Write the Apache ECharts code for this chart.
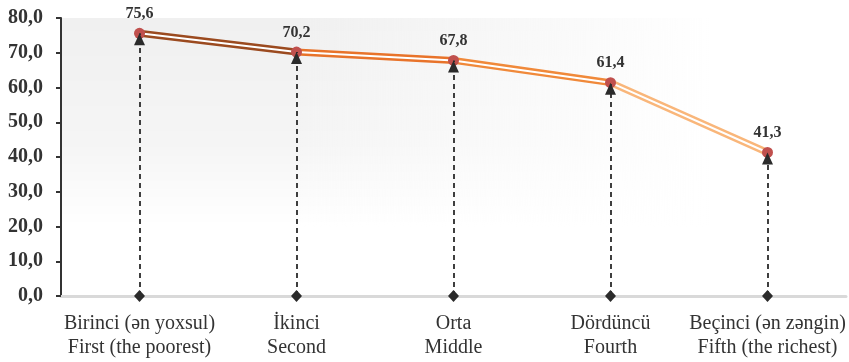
<!DOCTYPE html>
<html><head><meta charset="utf-8">
<script src="https://cdn.jsdelivr.net/npm/echarts@6/dist/echarts.min.js"></script>
<style>html,body{margin:0;padding:0;background:#fff}#c{width:849px;height:362px}</style>
</head><body><div id="c"></div>
<script>
var categories = ['Birinci (ən yoxsul)\nFirst (the poorest)', 'İkinci\nSecond', 'Orta\nMiddle', 'Dördüncü\nFourth', 'Beçinci (ən zəngin)\nFifth (the richest)'];
var values = [75.6, 70.2, 67.8, 61.4, 41.3];
var yTicks = [0, 10, 20, 30, 40, 50, 60, 70, 80];
var segColors = ['#9b4a1f', '#e8732a', '#f0893a', '#f9b67a'];

var fmt = function (v) { return Number(v).toFixed(1).replace('.', ','); };
var FONT = '"Liberation Serif", "Times New Roman", serif';

var series = [];
for (var i = 0; i < values.length - 1; i++) {
  var d = values.map(function (v, j) { return (j === i || j === i + 1) ? v : null; });
  series.push({
    type: 'line', data: d, symbol: 'none', silent: true, z: 2,
    lineStyle: { color: segColors[i], width: 7 }, animation: false
  });
}
series.push({
  type: 'line', data: values, symbol: 'none', silent: true, z: 3,
  lineStyle: { color: '#ffffff', width: 2 }, animation: false
});
series.push({
  type: 'line', data: values, symbol: 'circle', symbolSize: 11, z: 4,
  lineStyle: { width: 0, opacity: 0 },
  itemStyle: { color: '#c0504d' },
  label: { show: true, position: 'top', distance: 6, formatter: function (p) { return fmt(p.value); },
    fontFamily: FONT, fontWeight: 'bold', fontSize: 16, color: '#333' },
  animation: false
});
series.push({
  type: 'line', data: [], z: 5, animation: false,
  markLine: {
    silent: true, animation: false,
    symbol: ['diamond', 'triangle'], symbolSize: [11, 12],
    symbolOffset: [0, [0, 6]],
    lineStyle: { type: [5, 4], color: '#2b2b2b', width: 1.8 },
    itemStyle: { color: '#2b2b2b' },
    label: { show: false },
    data: values.map(function (v, i) { return [{ coord: [i, 0] }, { coord: [i, v] }]; })
  }
});

var chart = echarts.init(document.getElementById('c'), null, { renderer: 'canvas' });
chart.setOption({
  animation: false,
  grid: {
    left: 61, right: 3, top: 18, bottom: 66, show: true, borderWidth: 0,
    backgroundColor: {
      type: 'linear', x: 0, y: 0, x2: 0, y2: 1,
      colorStops: [{ offset: 0, color: 'rgba(0,0,0,0.06)' }, { offset: 0.45, color: 'rgba(0,0,0,0.038)' }, { offset: 0.75, color: 'rgba(0,0,0,0)' }]
    }
  },
  xAxis: {
    type: 'category', data: categories, boundaryGap: true,
    axisLine: { lineStyle: { color: '#d9d9d9', width: 3 } },
    axisTick: { show: false },
    axisLabel: { fontFamily: FONT, fontSize: 20, color: '#333', lineHeight: 24, margin: 16, interval: 0 }
  },
  yAxis: {
    type: 'value', min: yTicks[0], max: yTicks[yTicks.length - 1], interval: 10,
    splitLine: { show: false },
    axisLine: { show: true, lineStyle: { color: '#333', width: 2 } },
    axisTick: { show: true, length: 5, lineStyle: { color: '#333', width: 2 } },
    axisLabel: { fontFamily: FONT, fontWeight: 'bold', fontSize: 20, color: '#333', margin: 18, formatter: fmt }
  },
  series: series
});
var tl = chart.convertToPixel({ gridIndex: 0 }, [0, yTicks[yTicks.length - 1]]);
var br = chart.convertToPixel({ gridIndex: 0 }, [categories.length - 1, 20]);
var gx = tl[0] + 160, gw = br[0] + 80 - gx;
chart.setOption({
  graphic: [{
    type: 'rect', z: 1, silent: true,
    shape: { x: gx, y: tl[1], width: gw, height: br[1] - tl[1] },
    style: { fill: { type: 'linear', x: 0, y: 0, x2: 1, y2: 0,
      colorStops: [{ offset: 0, color: 'rgba(255,255,255,0)' }, { offset: 0.75, color: 'rgba(255,255,255,1)' }, { offset: 1, color: 'rgba(255,255,255,1)' }] } }
  }]
});
</script></body></html>
